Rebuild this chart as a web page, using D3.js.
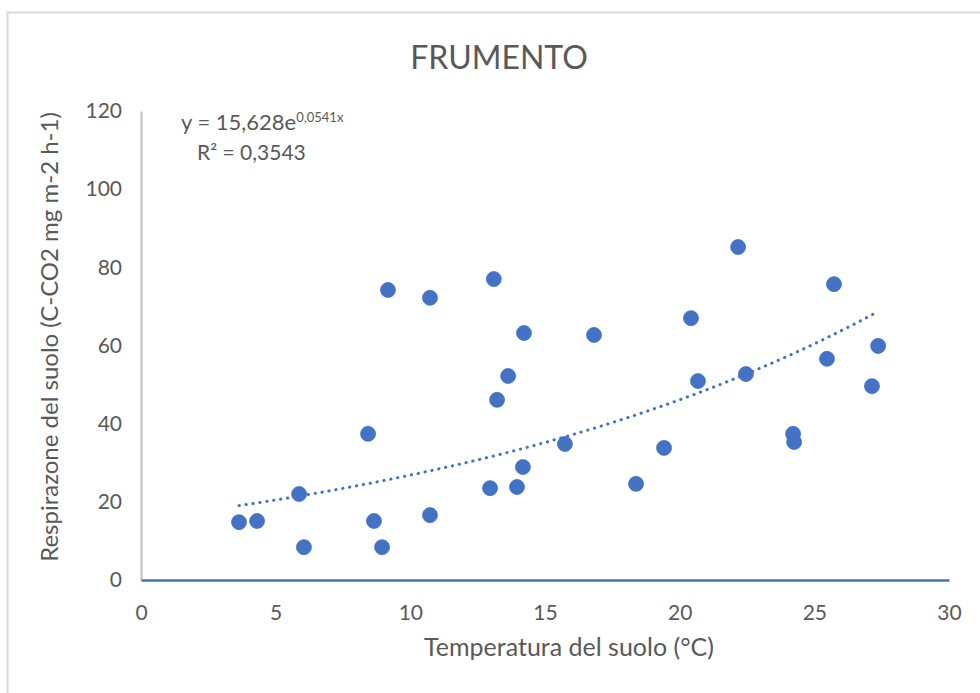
<!DOCTYPE html>
<html><head><meta charset="utf-8">
<script src="https://cdn.jsdelivr.net/npm/d3@7"></script>
<style>
html,body{margin:0;padding:0;background:#fff;}
svg{display:block;font-family:Lato,"Open Sans",sans-serif;}
</style></head>
<body>
<svg id="chart" width="980" height="693"></svg>
<script>
const title = "FRUMENTO";
const xTitle = "Temperatura del suolo (°C)";
const yTitle = "Respirazone del suolo (C-CO2 mg m-2 h-1)";
const xTicks = [0, 5, 10, 15, 20, 25, 30];
const yTicks = [0, 20, 40, 60, 80, 100, 120];
const temperature = [3.64, 4.31, 5.87, 6.05, 8.43, 8.65, 9.17, 8.95, 10.73, 10.73,
  13.10, 12.96, 13.22, 13.63, 14.22, 13.96, 14.18, 15.74, 16.82, 18.38,
  19.42, 20.42, 20.68, 22.17, 22.46, 24.21, 24.25, 25.47, 25.73, 27.14, 27.37];
const respiration = [14.8, 15.1, 22.0, 8.4, 37.4, 15.1, 74.2, 8.4, 72.2, 16.6,
  77.0, 23.5, 46.1, 52.2, 63.2, 23.8, 28.9, 34.8, 62.7, 24.6,
  33.8, 67.0, 50.9, 85.2, 52.7, 37.4, 35.3, 56.6, 75.7, 49.6, 59.9];
const trendA = 15.628, trendB = 0.0541;
const eqText = "y = 15,628e", eqExp = "0,0541x", r2Text = "R² = 0,3543";

const blue = "#4472C4", textCol = "#595959";
const svg = d3.select("#chart");

// outer chart border
svg.append("rect").attr("x", 7.5).attr("y", 12.5).attr("width", 1000).attr("height", 700)
  .attr("fill", "none").attr("stroke", "#d9d9d9").attr("stroke-width", 2);

const x = d3.scaleLinear().domain([0, 30]).range([141, 949]);
const y = d3.scaleLinear().domain([0, 120]).range([580, 111]);

// title
svg.append("text").attr("x", 499).attr("y", 69).attr("text-anchor", "middle")
  .attr("font-size", 32).attr("fill", textCol).text(title);

// y axis
const yAxis = svg.append("g").attr("transform", `translate(${x(0)},0)`)
  .call(d3.axisLeft(y).tickValues(yTicks).tickSize(0).tickPadding(19));
yAxis.select(".domain").attr("stroke", "#bfbfbf").attr("stroke-width", 2);
yAxis.selectAll("text").attr("font-size", 21).attr("fill", textCol).attr("font-family", "Lato");

// x axis (ticks labels)
const xAxis = svg.append("g").attr("transform", `translate(0,${y(0)})`)
  .call(d3.axisBottom(x).tickValues(xTicks).tickSize(0).tickPadding(25));
xAxis.select(".domain").attr("stroke", blue).attr("stroke-width", 2.5);
xAxis.selectAll("text").attr("font-size", 21).attr("fill", textCol).attr("font-family", "Lato");

// axis titles
svg.append("text").attr("x", 569).attr("y", 656).attr("text-anchor", "middle")
  .attr("font-size", 25).attr("fill", textCol).text(xTitle);
svg.append("text").attr("transform", `translate(58,${337}) rotate(-90)`)
  .attr("text-anchor", "middle").attr("font-size", 24).attr("fill", textCol).text(yTitle);

// trendline
const xmin = d3.min(temperature), xmax = d3.max(temperature);
const tx = d3.range(0, 101).map(i => xmin + (xmax - xmin) * i / 100);
svg.append("path")
  .attr("d", d3.line().x(d => x(d)).y(d => y(trendA * Math.exp(trendB * d)))(tx))
  .attr("fill", "none").attr("stroke", blue).attr("stroke-width", 3)
  .attr("stroke-linecap", "round").attr("stroke-dasharray", "0.3 6.7");

// points
svg.append("g").selectAll("circle").data(temperature).join("circle")
  .attr("cx", d => x(d)).attr("cy", (d, i) => y(respiration[i])).attr("r", 7.5)
  .attr("fill", blue).attr("stroke", blue).attr("stroke-width", 0.8);

// equation label
const eq = svg.append("text").attr("x", 181).attr("y", 130).attr("font-size", 22).attr("fill", textCol);
eq.append("tspan").text(eqText);
eq.append("tspan").attr("dy", -8).attr("font-size", 13).text(eqExp);
svg.append("text").attr("x", 197).attr("y", 160).attr("font-size", 21).attr("fill", textCol).text(r2Text);
</script>
</body></html>
